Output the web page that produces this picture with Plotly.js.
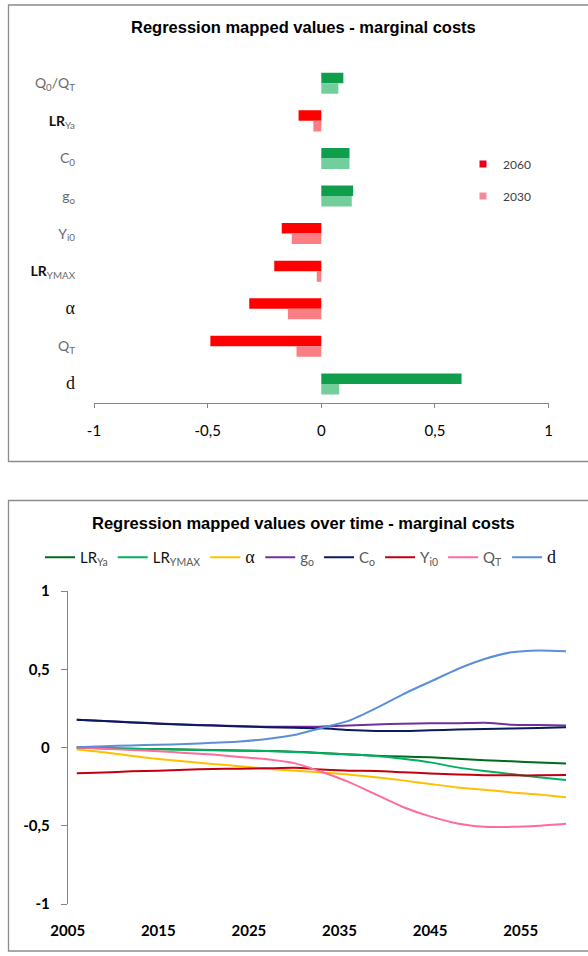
<!DOCTYPE html>
<html>
<head>
<meta charset="utf-8">
<script src="https://cdn.plot.ly/plotly-3.0.1.min.js"></script>
<style>
  html, body { margin: 0; padding: 0; background: #ffffff; }
  #chart { width: 588px; height: 956px; }
</style>
</head>
<body>
<div id="chart"></div>
<script>
// ---- Bar chart: regression mapped values (marginal costs), 2060 vs 2030 ----
const barCategories = ['Q0/QT', 'LRYa', 'C0', 'g0', 'Yi0', 'LRYMAX', 'alpha', 'QT', 'd'];
const barLabels = [
  'Q<sub>0</sub>/Q<sub>T</sub>',
  '<span style="color:#111111"><b>LR</b></span><sub>Ya</sub>',
  'C<sub>0</sub>',
  'g<sub>o</sub>',
  'Y<sub>i0</sub>',
  '<span style="color:#111111"><b>LR</b></span><sub>YMAX</sub>',
  '<span style="font-family:Liberation Serif;font-size:18px;color:#111111">α</span>',
  'Q<sub>T</sub>',
  '<span style="font-family:Liberation Serif;font-size:18px;color:#111111">d</span>'
];
const values2060 = [0.097, -0.100, 0.124, 0.140, -0.174, -0.207, -0.317, -0.488, 0.617];
const values2030 = [0.075, -0.035, 0.124, 0.134, -0.130, -0.020, -0.147, -0.109, 0.079];
const barTicks = [-1, -0.5, 0, 0.5, 1];
const barTickText = ['-1', '-0,5', '0', '0,5', '1'];

// ---- Line chart: regression mapped values over time ----
const years = [2006, 2009, 2012, 2015, 2018, 2021, 2024, 2027, 2030, 2033,
               2036, 2039, 2042, 2045, 2048, 2051, 2054, 2057, 2060];
const lrYa   = [0.000, -0.004, -0.008, -0.010, -0.013, -0.016, -0.019, -0.022, -0.027, -0.035,
                -0.044, -0.052, -0.058, -0.063, -0.072, -0.081, -0.088, -0.096, -0.103];
const lrYmax = [0.000, -0.004, -0.008, -0.011, -0.014, -0.017, -0.020, -0.023, -0.028, -0.036,
                -0.043, -0.055, -0.072, -0.095, -0.127, -0.150, -0.170, -0.190, -0.207];
const alpha  = [-0.012, -0.030, -0.053, -0.073, -0.090, -0.105, -0.120, -0.136, -0.148, -0.160,
                -0.172, -0.190, -0.210, -0.233, -0.255, -0.270, -0.287, -0.300, -0.318];
const g0     = [0.178, 0.170, 0.162, 0.154, 0.147, 0.142, 0.137, 0.133, 0.132, 0.134,
                0.141, 0.147, 0.152, 0.155, 0.155, 0.158, 0.146, 0.144, 0.140];
const c0     = [0.178, 0.169, 0.160, 0.152, 0.145, 0.140, 0.134, 0.130, 0.126, 0.123,
                0.112, 0.106, 0.105, 0.110, 0.115, 0.119, 0.121, 0.124, 0.130];
const yi0    = [-0.165, -0.160, -0.152, -0.148, -0.142, -0.137, -0.135, -0.133, -0.130, -0.140,
                -0.148, -0.150, -0.158, -0.166, -0.172, -0.177, -0.178, -0.178, -0.175];
const qT     = [0.000, -0.008, -0.016, -0.024, -0.035, -0.045, -0.060, -0.075, -0.100, -0.155,
                -0.220, -0.300, -0.380, -0.440, -0.485, -0.506, -0.507, -0.500, -0.487];
const dVals  = [0.002, 0.008, 0.013, 0.018, 0.022, 0.030, 0.038, 0.055, 0.080, 0.125,
                0.170, 0.250, 0.340, 0.420, 0.500, 0.565, 0.608, 0.620, 0.615];
const lineTicksY = [-1, -0.5, 0, 0.5, 1];
const lineTickTextY = ['-1', '-0,5', '0', '0,5', '1'];
const yearTicks = [2005, 2015, 2025, 2035, 2045, 2055];
const midTicks = [2015, 2025, 2035, 2045, 2055];

const seriesNames = [
  '<span style="color:#111111">LR</span><sub>Ya</sub>',
  '<span style="color:#111111">LR</span><sub>YMAX</sub>',
  '<span style="font-family:Liberation Serif;font-size:18px;color:#111111">α</span>',
  'g<sub>o</sub>',
  'C<sub>o</sub>',
  'Y<sub>i0</sub>',
  'Q<sub>T</sub>',
  '<span style="font-family:Liberation Serif;font-size:18px;color:#111111">d</span>'
];
const seriesData = [lrYa, lrYmax, alpha, g0, c0, yi0, qT, dVals];
const seriesColors = ['#006A1E', '#00B060', '#FFC000', '#7030A0', '#0A1A5C', '#C00010', '#FF6B9A', '#5B8FD6'];

// pixel helpers for the 588 x 956 canvas
const W = 588, H = 956;
const px = v => v / W;
const py = v => 1 - v / H;

// bar colours follow the sign of each value
const col2060 = values2060.map(v => v >= 0 ? '#0E9E4C' : '#FF0000');
const col2030 = values2030.map(v => v >= 0 ? '#72CF9C' : '#FA7E84');

const traces = [
  {
    type: 'bar', orientation: 'h', name: '2060',
    x: values2060, y: barCategories,
    marker: { color: col2060 },
    xaxis: 'x', yaxis: 'y', showlegend: false, hoverinfo: 'skip'
  },
  {
    type: 'bar', orientation: 'h', name: '2030',
    x: values2030, y: barCategories,
    marker: { color: col2030 },
    xaxis: 'x', yaxis: 'y', showlegend: false, hoverinfo: 'skip'
  },
  // legend keys for the bar chart
  {
    type: 'scatter', mode: 'markers', name: '2060', x: [null], y: [null],
    marker: { symbol: 'square', size: 7, color: '#E8001C' },
    xaxis: 'x', yaxis: 'y', legend: 'legend', legendgroup: 'a'
  },
  {
    type: 'scatter', mode: 'markers', name: '2030', x: [null], y: [null],
    marker: { symbol: 'square', size: 7, color: '#F58A9C' },
    xaxis: 'x', yaxis: 'y', legend: 'legend', legendgroup: 'b'
  }
];

seriesData.forEach((s, i) => {
  traces.push({
    type: 'scatter', mode: 'lines', name: seriesNames[i],
    x: years, y: s,
    line: { color: seriesColors[i], width: 2, shape: 'spline', smoothing: 0.6 },
    xaxis: 'x2', yaxis: 'y2', legend: 'legend2', hoverinfo: 'skip'
  });
});

const grey = '#868686';
const yDom2 = [py(904), py(591)];
const zeroPos = (yDom2[0] + yDom2[1]) / 2;

const layout = {
  width: W, height: H,
  margin: { l: 0, r: 0, t: 0, b: 0 },
  paper_bgcolor: '#ffffff', plot_bgcolor: 'rgba(0,0,0,0)',
  separators: ', ',
  font: { family: 'Lato, Liberation Sans, sans-serif', color: '#000000' },
  barmode: 'group', bargap: 0.44, bargroupgap: 0,
  xaxis: {
    domain: [px(94), px(548.6)], anchor: 'y', range: [-1, 1],
    tickvals: barTicks, ticktext: barTickText,
    ticks: 'outside', ticklen: 4, tickcolor: grey,
    showline: true, linecolor: grey, linewidth: 1,
    showgrid: false, zeroline: false,
    tickfont: { size: 15, color: '#000000' }, ticklabelstandoff: 10
  },
  yaxis: {
    domain: [py(402.7), py(64.5)], anchor: 'x', type: 'category',
    categoryorder: 'array', categoryarray: barCategories,
    range: [8.5, -0.5],
    tickvals: barCategories, ticktext: barLabels,
    ticks: '', showline: false, showgrid: false, zeroline: false,
    tickfont: { size: 14, color: '#6A6A6A' }, ticklabelstandoff: 18
  },
  xaxis2: {
    domain: [px(67.7), px(566)], anchor: 'y2', range: [2005, 2060],
    tickvals: yearTicks, ticks: '', showline: false, showgrid: false, zeroline: false,
    tickfont: { size: 15, color: '#000000', weight: 700 }, ticklabelstandoff: 16
  },
  xaxis3: {
    overlaying: 'x2', anchor: 'free', position: zeroPos, side: 'bottom',
    range: [2005, 2060], tickvals: midTicks, ticks: 'outside', ticklen: 5, tickcolor: grey,
    showline: true, linecolor: grey, linewidth: 1, showticklabels: false,
    showgrid: false, zeroline: false
  },
  xaxis4: {
    overlaying: 'x2', anchor: 'free', position: zeroPos, side: 'top',
    range: [2005, 2060], tickvals: midTicks, ticks: 'outside', ticklen: 5, tickcolor: grey,
    showline: false, showticklabels: false, showgrid: false, zeroline: false
  },
  yaxis2: {
    domain: yDom2, anchor: 'x2', range: [-1, 1],
    tickvals: lineTicksY, ticktext: lineTickTextY,
    ticks: 'outside', ticklen: 6, tickcolor: grey,
    showline: true, linecolor: grey, linewidth: 1,
    showgrid: false, zeroline: false,
    tickfont: { size: 15, color: '#000000', weight: 700 }, ticklabelstandoff: 8
  },
  yaxis3: {
    overlaying: 'y2', anchor: 'x2', side: 'left', range: [-1, 1],
    tickvals: lineTicksY, ticks: 'inside', ticklen: 4, tickcolor: grey,
    showline: false, showticklabels: false, showgrid: false, zeroline: false
  },
  legend: {
    x: px(463), y: py(149.5), xanchor: 'left', yanchor: 'top',
    traceorder: 'grouped', tracegroupgap: 13,
    bgcolor: 'rgba(0,0,0,0)', font: { size: 12, color: '#404040' }
  },
  legend2: {
    orientation: 'h', x: px(40), y: py(541), xanchor: 'left', yanchor: 'top',
    bgcolor: 'rgba(0,0,0,0)', itemwidth: 30,
    font: { size: 15, color: '#595959' }
  },
  annotations: [
    {
      text: 'Regression mapped values - marginal costs',
      xref: 'paper', yref: 'paper', x: px(303), y: py(26.7),
      xanchor: 'center', yanchor: 'middle', showarrow: false,
      font: { family: 'Liberation Sans, Arial, sans-serif', size: 16.5, weight: 700, color: '#000000' }
    },
    {
      text: 'Regression mapped values over time - marginal costs',
      xref: 'paper', yref: 'paper', x: px(303), y: py(522.7),
      xanchor: 'center', yanchor: 'middle', showarrow: false,
      font: { family: 'Liberation Sans, Arial, sans-serif', size: 16.5, weight: 700, color: '#000000' }
    }
  ],
  shapes: [
    { type: 'rect', xref: 'paper', yref: 'paper', x0: px(8.5), x1: 1.05, y0: py(461.5), y1: py(5),
      line: { color: '#8C8C8C', width: 1.3 }, fillcolor: 'rgba(0,0,0,0)', layer: 'below' },
    { type: 'rect', xref: 'paper', yref: 'paper', x0: px(8.5), x1: 1.05, y0: py(951), y1: py(500.5),
      line: { color: '#8C8C8C', width: 1.3 }, fillcolor: 'rgba(0,0,0,0)', layer: 'below' }
  ]
};

Plotly.newPlot('chart', traces, layout, { staticPlot: true, displayModeBar: false });
</script>
</body>
</html>
